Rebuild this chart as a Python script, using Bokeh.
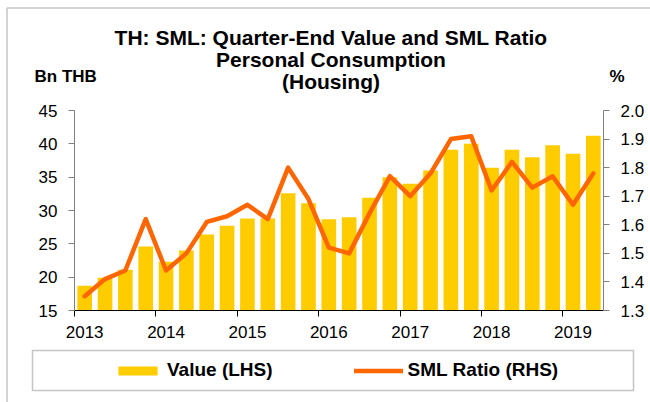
from bokeh.plotting import figure
from bokeh.models import (Range1d, LinearAxis, FixedTicker, Label, BoxAnnotation,
                          Legend, LegendItem, NumeralTickFormatter)
from bokeh.embed import file_html
from bokeh.resources import INLINE

# ---- data ----
quarters = ["2013Q1", "2013Q2", "2013Q3", "2013Q4",
            "2014Q1", "2014Q2", "2014Q3", "2014Q4",
            "2015Q1", "2015Q2", "2015Q3", "2015Q4",
            "2016Q1", "2016Q2", "2016Q3", "2016Q4",
            "2017Q1", "2017Q2", "2017Q3", "2017Q4",
            "2018Q1", "2018Q2", "2018Q3", "2018Q4",
            "2019Q1", "2019Q2"]
value_bn_thb = [18.7, 19.9, 21.1, 24.6, 22.3, 24.0, 26.4, 27.7, 28.8, 28.8,
                32.6, 31.1, 28.7, 29.0, 31.9, 35.0, 34.0, 36.0, 39.1, 40.0,
                36.4, 39.1, 38.0, 39.8, 38.5, 41.2]
sml_ratio = [1.35, 1.41, 1.44, 1.62, 1.44, 1.50, 1.61, 1.63, 1.67, 1.62,
             1.80, 1.69, 1.52, 1.50, 1.64, 1.77, 1.70, 1.78, 1.90, 1.91,
             1.72, 1.82, 1.73, 1.77, 1.67, 1.78]
year_labels = ["2013", "2014", "2015", "2016", "2017", "2018", "2019"]
left_ticks = [15, 20, 25, 30, 35, 40, 45]
right_ticks = [1.3, 1.4, 1.5, 1.6, 1.7, 1.8, 1.9, 2.0]

FONT = "Liberation Sans"
W, H = 650, 402
# plot-area box inside the canvas (px): left, right, top, bottom
FL, FR, FT, FB = 74, 603, 110, 310

x = list(range(len(quarters)))
year_pos = [quarters.index(y + "Q1") for y in year_labels]
year_bounds = [q - 0.5 for q in year_pos]

x0, x1 = -0.5, len(quarters) - 0.5
ppx = (FR - FL) / (x1 - x0)
y0, y1 = left_ticks[0], left_ticks[-1]
ppy = (FB - FT) / (y1 - y0)
r0, r1 = right_ticks[0], right_ticks[-1]
ppr = (FB - FT) / (r1 - r0)

p = figure(width=W, height=H, output_backend="svg", toolbar_location=None,
           x_range=Range1d(x0 - FL / ppx, x1 + (W - FR) / ppx),
           y_range=Range1d(y0 - (H - FB) / ppy, y1 + FT / ppy),
           min_border=0, x_axis_location=None, y_axis_location=None)
p.outline_line_color = None
p.xgrid.visible = False
p.ygrid.visible = False
p.background_fill_color = "white"
p.border_fill_color = "white"
p.extra_y_ranges = {"ratio": Range1d(r0 - (H - FB) / ppr, r1 + FT / ppr)}

bars = p.vbar(x=x, top=value_bn_thb, bottom=y0, width=0.72,
              fill_color="#FFCC00", line_color=None)
line = p.line(x=x, y=sml_ratio, y_range_name="ratio", line_color="#FF6600",
              line_width=4.5, line_join="round", line_cap="round")

# axes (fixed inside the full-canvas frame)
xaxis = LinearAxis(ticker=FixedTicker(ticks=year_pos, minor_ticks=year_bounds),
                   fixed_location=y0, bounds=(x0, x1))
xaxis.major_label_overrides = {pos: lab for pos, lab in zip(year_pos, year_labels)}
xaxis.major_tick_in = 0
xaxis.major_tick_out = 0
xaxis.minor_tick_in = 0
xaxis.minor_tick_out = 6
xaxis.minor_tick_line_color = "black"
xaxis.axis_line_color = "black"
xaxis.major_label_standoff = 9
p.add_layout(xaxis, "below")

laxis = LinearAxis(ticker=FixedTicker(ticks=left_ticks), fixed_location=x0,
                   bounds=(y0, y1))
raxis = LinearAxis(ticker=FixedTicker(ticks=right_ticks), y_range_name="ratio",
                   formatter=NumeralTickFormatter(format="0.0"),
                   fixed_location=x1, bounds=(r0, r1))
for ax in (laxis, raxis):
    ax.major_tick_in = 0
    ax.major_tick_out = 6
    ax.minor_tick_out = 0
    ax.minor_tick_in = 0
    ax.axis_line_color = "#808080"
    ax.major_tick_line_color = "#808080"
    ax.major_label_standoff = 11
p.add_layout(laxis, "left")
p.add_layout(raxis, "right")

for ax in (xaxis, laxis, raxis):
    ax.major_label_text_font = FONT
    ax.major_label_text_font_size = "17px"
    ax.major_label_text_color = "black"

# outer chart border (runs off the right and bottom like the reference crop)
p.add_layout(BoxAnnotation(left=6.5, right=W + 50, top=H - 7.5, bottom=-50,
                           left_units="screen", right_units="screen",
                           top_units="screen", bottom_units="screen",
                           fill_alpha=0, line_color="#404040", line_width=1.5))

# titles (screen units: x from left, y from bottom)
title_lines = ["TH: SML: Quarter-End Value and SML Ratio",
               "Personal Consumption", "(Housing)"]
for txt, ybase in zip(title_lines, [H - 37, H - 59, H - 81]):
    p.add_layout(Label(x=330.5, y=ybase, x_units="screen", y_units="screen",
                       text=txt, text_align="center", text_baseline="alphabetic",
                       text_font=FONT, text_font_style="bold",
                       text_font_size="21px", text_color="black"))
p.add_layout(Label(x=34, y=H - 76, x_units="screen", y_units="screen", text="Bn THB",
                   text_align="left", text_baseline="alphabetic", text_font=FONT,
                   text_font_style="bold", text_font_size="17px", text_color="black"))
p.add_layout(Label(x=616.5, y=H - 76, x_units="screen", y_units="screen", text="%",
                   text_align="center", text_baseline="alphabetic", text_font=FONT,
                   text_font_style="bold", text_font_size="17px", text_color="black"))

# legend box
p.add_layout(BoxAnnotation(left=32, right=633, top=H - 350, bottom=H - 390,
                           left_units="screen", right_units="screen",
                           top_units="screen", bottom_units="screen",
                           fill_alpha=0, line_color="#404040", line_width=1.5))

legend = Legend(items=[LegendItem(label="Value (LHS)", renderers=[bars]),
                       LegendItem(label="SML Ratio (RHS)", renderers=[line])],
                orientation="horizontal", location=(113, H - 381),
                glyph_width=49, glyph_height=11, label_standoff=5, spacing=81,
                padding=0, margin=0, border_line_alpha=0,
                background_fill_alpha=0,
                label_text_font=FONT, label_text_font_style="bold",
                label_text_font_size="19px", label_text_color="black")
p.add_layout(legend, "center")

open("out.html", "w").write(file_html(p, INLINE))
